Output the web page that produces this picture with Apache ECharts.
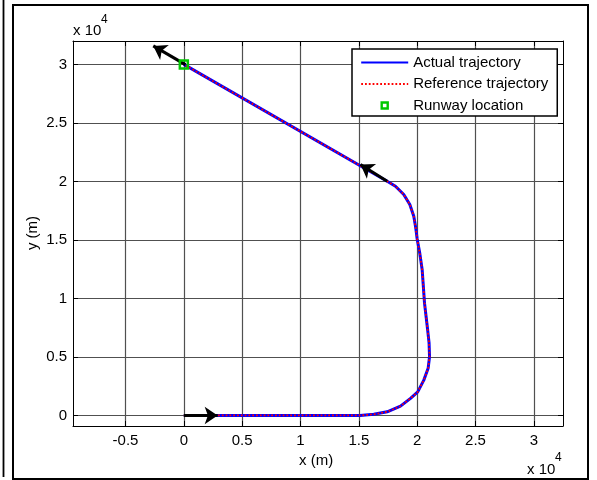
<!DOCTYPE html>
<html>
<head>
<meta charset="utf-8">
<script src="https://cdn.jsdelivr.net/npm/echarts@6/dist/echarts.min.js"></script>
<style>
html,body{margin:0;padding:0;background:#fff;}
#chart{width:597px;height:480px;}
</style>
</head>
<body>
<div id="chart"></div>
<script>
// Trajectory (metres)
const trajX = [0, 15100, 16280, 17430, 18570, 19430, 20050, 20570, 20940, 21060, 21020, 20900, 20630, 20430, 20220, 20000, 19880, 19710, 19370, 18850, 18140, 17430, 0];
const trajY = [0, 0, 100, 310, 800, 1460, 2020, 3020, 4030, 5020, 6200, 7300, 9600, 12450, 13880, 15080, 16020, 17020, 18020, 18880, 19590, 20020, 30000];
// Runway location
const runwayX = [0];
const runwayY = [30000];
// Direction arrows (tail -> head), metres
const arrowTailX = [0, 17430, 140];
const arrowTailY = [0, 20020, 29980];
const arrowHeadX = [2900, 15140, -2620];
const arrowHeadY = [0, 21450, 31580];
// Tick values
const xTicks = [-5000, 0, 5000, 10000, 15000, 20000, 25000, 30000];
const yTicks = [0, 5000, 10000, 15000, 20000, 25000, 30000];
const seriesNames = ['Actual trajectory', 'Reference trajectory', 'Runway location'];

const traj = trajX.map((x, i) => [x, trajY[i]]);
const runway = runwayX.map((x, i) => [x, runwayY[i]]);
const arrows = arrowTailX.map((x, i) => ({coords: [[x, arrowTailY[i]], [arrowHeadX[i], arrowHeadY[i]]]}));

const FONT = '"Liberation Sans", Arial, sans-serif';
const fmt = v => String(Math.round(v) / 10000);
const GRIDC = '#505050';
const GREEN = '#00c800';

function xAxisDef(pos, showLabels) {
  return {
    type: 'value', position: pos, min: -9500, max: 32500,
    axisLine: {show: true, onZero: false, lineStyle: {color: '#000', width: 1}},
    axisTick: {show: true, inside: true, length: 5, customValues: xTicks, lineStyle: {color: '#000'}},
    axisLabel: {show: showLabels, customValues: xTicks, formatter: fmt, color: '#000', fontFamily: FONT, fontSize: 15, margin: 7},
    splitLine: {show: showLabels, lineStyle: {color: GRIDC, width: 1.2}},
  };
}
function yAxisDef(pos, showLabels) {
  return {
    type: 'value', position: pos, min: -900, max: 32000,
    axisLine: {show: true, onZero: false, lineStyle: {color: '#000', width: 1}},
    axisTick: {show: true, inside: true, length: 5, customValues: yTicks, lineStyle: {color: '#000'}},
    axisLabel: {show: showLabels, customValues: yTicks, formatter: fmt, color: '#000', fontFamily: FONT, fontSize: 15, margin: 6},
    splitLine: {show: showLabels, lineStyle: {color: GRIDC, width: 1.2}},
  };
}

const chart = echarts.init(document.getElementById('chart'), null, {renderer: 'canvas'});
chart.setOption({
  animation: false,
  backgroundColor: '#fff',
  grid: {left: 73, top: 41, right: 34, bottom: 54, outerBoundsMode: 'none', containLabel: false},
  xAxis: [xAxisDef('bottom', true), xAxisDef('top', false)],
  yAxis: [yAxisDef('left', true), yAxisDef('right', false)],
  legend: {
    show: true, orient: 'vertical', left: 352, top: 49,
    data: [
      {name: seriesNames[0], itemStyle: {opacity: 0}},
      {name: seriesNames[1], itemStyle: {opacity: 0}},
      {name: seriesNames[2], icon: 'path://M0,0M47,9M20.5,1.5H26.5V7.5H20.5Z',
       itemStyle: {color: 'rgba(255,255,255,0)', borderColor: GREEN, borderWidth: 2.4}}
    ],
    backgroundColor: '#fff', borderColor: '#000', borderWidth: 1.5, borderRadius: 0,
    padding: [6, 9, 3, 8], itemGap: 6.5, itemWidth: 47, itemHeight: 9,
    textStyle: {color: '#000', fontFamily: FONT, fontSize: 15},
    selectedMode: false, z: 20
  },
  graphic: [
    {type: 'rect', shape: {x: 13, y: 5, width: 575, height: 474}, style: {fill: 'none', stroke: '#000', lineWidth: 2}, silent: true, z: 100},
    {type: 'line', shape: {x1: 3.5, y1: 0, x2: 3.5, y2: 477}, style: {stroke: '#000', lineWidth: 1.8}, silent: true, z: 100},
    {type: 'text', left: 73, top: 23, style: {text: 'x 10', fill: '#000', font: '15px ' + FONT}, z: 50},
    {type: 'text', left: 101, top: 14, style: {text: '4', fill: '#000', font: '12px ' + FONT}, z: 50},
    {type: 'text', left: 527, top: 462, style: {text: 'x 10', fill: '#000', font: '15px ' + FONT}, z: 50},
    {type: 'text', left: 555, top: 452, style: {text: '4', fill: '#000', font: '12px ' + FONT}, z: 50},
    {type: 'text', left: 299, top: 453, style: {text: 'x (m)', fill: '#000', font: '15px ' + FONT}, z: 50},
    {type: 'text', x: 33, y: 233, rotation: Math.PI / 2, style: {text: 'y (m)', fill: '#000', font: '15px ' + FONT, align: 'center', verticalAlign: 'middle'}, z: 50}
  ],
  series: [
    {
      name: seriesNames[0], type: 'line', data: traj, showSymbol: false, symbol: 'none',
      lineStyle: {color: '#0000ff', width: 3}, itemStyle: {color: '#0000ff'}, z: 3, silent: true
    },
    {
      name: seriesNames[1], type: 'line', data: traj, showSymbol: false, symbol: 'none',
      lineStyle: {color: '#ff0000', width: 1.8, type: [1.8, 2]}, itemStyle: {color: '#ff0000'}, z: 4, silent: true
    },
    {
      name: 'arrows', type: 'lines', coordinateSystem: 'cartesian2d', data: arrows,
      symbol: ['none', 'arrow'], symbolSize: [0, 13],
      lineStyle: {color: '#000', width: 3, opacity: 1, curveness: 0}, z: 5, silent: true
    },
    {
      name: seriesNames[2], type: 'scatter', data: runway, symbol: 'rect', symbolSize: 8,
      itemStyle: {color: 'rgba(255,255,255,0)', borderColor: GREEN, borderWidth: 2.5, opacity: 1}, z: 6, silent: true
    }
  ]
});
</script>
</body>
</html>
